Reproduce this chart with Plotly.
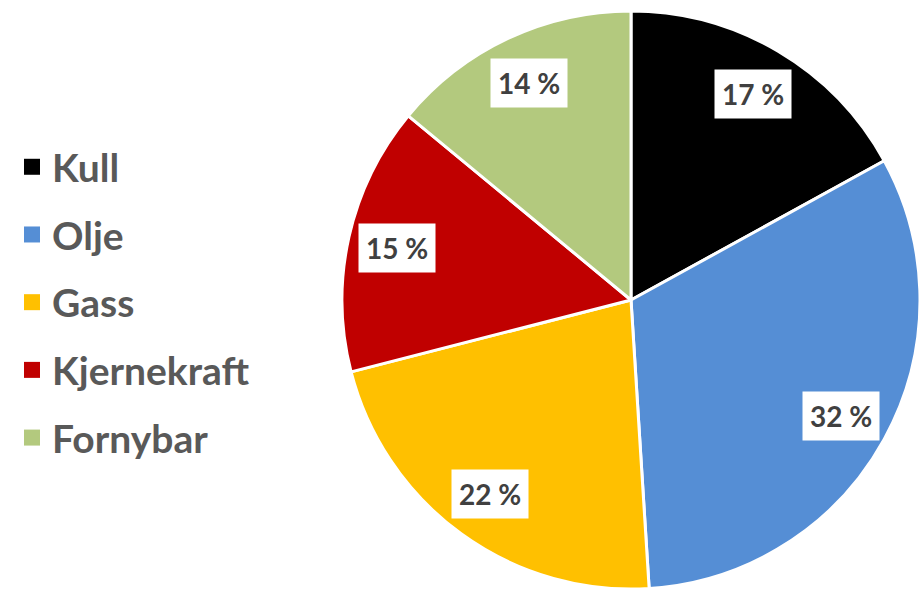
import math
import plotly.graph_objects as go

categories = ["Kull", "Olje", "Gass", "Kjernekraft", "Fornybar"]
shares = [17, 32, 22, 15, 14]
colors = ["#000000", "#558ED5", "#FFC000", "#C00000", "#B3C97E"]
labels = ["17 %", "32 %", "22 %", "15 %", "14 %"]

W, H = 920, 593
dom_x = [342 / W, 1.0]
dom_y = [1 / H, 585 / H]

fig = go.Figure()
fig.add_trace(go.Pie(
    labels=categories, values=shares, sort=False, direction="clockwise", rotation=0,
    marker=dict(colors=colors, line=dict(color="white", width=3)),
    textinfo="none", hoverinfo="label+percent", showlegend=False,
    domain=dict(x=dom_x, y=dom_y),
))

# legend via invisible scatter traces
for c, col in zip(categories, colors):
    fig.add_trace(go.Scatter(
        x=[None], y=[None], mode="markers", name=c, legendgroup=c,
        marker=dict(symbol="square", size=16, color=col),
    ))

# label positions computed from the slice geometry
pw = (dom_x[1] - dom_x[0]) * W
ph = (dom_y[1] - dom_y[0]) * H
R = min(pw, ph) / 2
cx = (dom_x[0] + dom_x[1]) / 2 * W
cy = (1 - (dom_y[0] + dom_y[1]) / 2) * H
total = sum(shares)
cum = 0
for v, lab in zip(shares, labels):
    mid = (cum + v / 2) / total * 2 * math.pi
    cum += v
    r = 0.83 * R
    px = cx + r * math.sin(mid)
    py = cy - r * math.cos(mid)
    fig.add_annotation(
        x=px / W, y=1 - py / H, xref="paper", yref="paper", text="<b>" + lab + "</b>",
        xanchor="center", yanchor="middle",
        showarrow=False, bgcolor="white", borderpad=7,
        font=dict(family="Lato", size=28, color="#404040"),
    )

fig.update_layout(
    width=W, height=H,
    margin=dict(l=0, r=0, t=0, b=0),
    paper_bgcolor="white", plot_bgcolor="white",
    xaxis=dict(visible=False), yaxis=dict(visible=False),
    legend=dict(
        x=12 / W, y=0.49, xanchor="left", yanchor="middle",
        font=dict(family="Lato", size=39, color="#595959", weight="bold"),
        tracegroupgap=14,
    ),
)

fig.write_html("out.html", config={"displayModeBar": False},
               post_script="document.body.style.margin='0';")
